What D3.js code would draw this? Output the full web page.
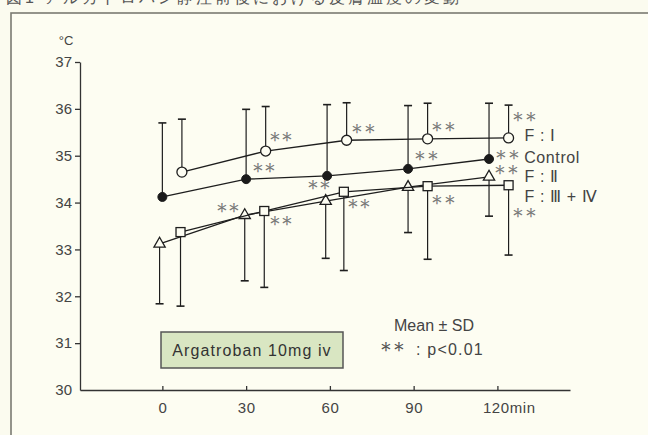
<!DOCTYPE html>
<html>
<head>
<meta charset="utf-8">
<script src="https://cdn.jsdelivr.net/npm/d3@7"></script>
<style>
  body { margin: 0; background: #fbfbef; }
  svg { display: block; }
  text { font-family: "Liberation Sans", Arial, sans-serif; }
</style>
</head>
<body>
<div class="chart"></div>
<script>
// 皮膚温度の推移 (Mean ± SD)

var width = 648,
    height = 435;

/* data */
var yTicks = [30, 31, 32, 33, 34, 35, 36, 37];
var xTicks = [0, 30, 60, 90, 120];
var xTickLabels = ["0", "30", "60", "90", "120min"];

// Control (filled circles), SD upward
var controlTime = [0, 30, 59, 88, 117];
var controlMean = [34.12, 34.50, 34.57, 34.72, 34.93];
var controlTop  = [35.70, 35.99, 36.09, 36.07, 36.12];

// F : I (open circles), SD upward
var f1Time = [7, 37, 66, 95, 124];
var f1Mean = [34.65, 35.10, 35.33, 35.36, 35.38];
var f1Top  = [35.78, 36.05, 36.13, 36.12, 36.08];

// F : II (triangles), SD downward
var f2Time = [-1, 29.5, 58.5, 88, 117];
var f2Mean = [33.12, 33.73, 34.03, 34.33, 34.55];
var f2Low  = [31.84, 32.33, 32.81, 33.36, 33.71];

// F : III + IV (squares), SD downward
var f34Time = [6.5, 36.5, 65, 95, 124];
var f34Mean = [33.37, 33.82, 34.23, 34.35, 34.37];
var f34Low  = [31.79, 32.19, 32.55, 32.79, 32.88];

// ** marks [time, value] (centre of the pair)
var starMarks = [
  [42.4, 35.34], [71.9, 35.51], [100.6, 35.57], [129.7, 35.78],
  [36.3, 34.69], [94.5, 34.95], [123.6, 34.97],
  [23.4, 33.84], [42.4, 33.56], [56.1, 34.33], [70.4, 33.91],
  [100.6, 34.01], [123.2, 34.65], [129.7, 33.73]
];

// series labels [time, value, text]
var seriesLabels = [
  [129.7, 35.44, "F : Ⅰ"],
  [129.6, 34.97, "Control"],
  [129.7, 34.55, "F : Ⅱ"],
  [129.7, 34.12, "F : Ⅲ + Ⅳ"]
];

/* scales */
var x = d3.scaleLinear().domain([-29.5, 146]).range([80, 570]);
var y = d3.scaleLinear().domain([30, 37]).range([390, 62]);

var svg = d3.select(".chart").append("svg")
    .attr("width", width)
    .attr("height", height);

svg.append("rect")
    .attr("width", width).attr("height", height)
    .attr("fill", "#fbfbef");

// title (cut off at top of the scan)
svg.append("text")
    .attr("x", 6).attr("y", 3)
    .attr("font-family", "Noto Sans CJK JP")
    .attr("font-size", 16)
    .attr("fill", "#555")
    .attr("letter-spacing", 3)
    .text("図1 アルガトロバン静注前後における皮膚温度の変動");

// frame
svg.append("rect")
    .attr("x", 11).attr("y", 13)
    .attr("width", 700).attr("height", 500)
    .attr("fill", "#fdfdf2")
    .attr("stroke", "#7a7a72")
    .attr("stroke-width", 1.6);

/* axes */
var yAxis = svg.append("g")
    .attr("transform", "translate(" + x.range()[0] + ",0)")
    .call(d3.axisLeft(y).tickValues(yTicks).tickSize(5).tickSizeOuter(0).tickPadding(3)
          .tickFormat(d3.format("d")));

var xAxis = svg.append("g")
    .attr("transform", "translate(0," + y.range()[0] + ")")
    .call(d3.axisBottom(x).tickValues(xTicks).tickSize(-4).tickSizeOuter(0).tickPadding(12)
          .tickFormat(function(d, i) { return xTickLabels[i]; }));

[yAxis, xAxis].forEach(function(a) {
  a.selectAll("path, line").attr("stroke", "#333").attr("stroke-width", 1.3);
  a.selectAll("text").attr("fill", "#444").attr("font-size", 15)
      .attr("font-family", "Liberation Sans, Arial, sans-serif");
});
yAxis.select(".tick:first-of-type line").remove();
xAxis.selectAll(".tick text").attr("letter-spacing", 0.6);
xAxis.select(".tick:last-of-type text").attr("text-anchor", "start").attr("dx", -15);

svg.append("text")
    .attr("x", 66).attr("y", 45)
    .attr("text-anchor", "middle")
    .attr("font-size", 13).attr("fill", "#444")
    .text("°C");

/* helpers */
function zip(t, m, e) {
  return t.map(function(d, i) { return {t: d, m: m[i], e: e[i]}; });
}

var line = d3.line()
    .x(function(d) { return x(d.t); })
    .y(function(d) { return y(d.m); });

var ink = "#1e1e1e";

function drawSeries(data, marker) {
  var g = svg.append("g");
  // SD bars
  g.selectAll(".sd").data(data).enter().append("line")
      .attr("x1", function(d) { return x(d.t); })
      .attr("x2", function(d) { return x(d.t); })
      .attr("y1", function(d) { return y(d.m); })
      .attr("y2", function(d) { return y(d.e); })
      .attr("stroke", ink).attr("stroke-width", 1.2);
  g.selectAll(".cap").data(data).enter().append("line")
      .attr("x1", function(d) { return x(d.t) - 4; })
      .attr("x2", function(d) { return x(d.t) + 4; })
      .attr("y1", function(d) { return y(d.e); })
      .attr("y2", function(d) { return y(d.e); })
      .attr("stroke", ink).attr("stroke-width", 1.6);
  g.append("path").datum(data)
      .attr("d", line)
      .attr("fill", "none")
      .attr("stroke", ink).attr("stroke-width", 1.3);
  marker(g.selectAll(".pt").data(data).enter());
}

drawSeries(zip(controlTime, controlMean, controlTop), function(s) {
  s.append("circle")
      .attr("cx", function(d) { return x(d.t); })
      .attr("cy", function(d) { return y(d.m); })
      .attr("r", 4.5).attr("fill", "#1a1a1a").attr("stroke", ink);
});

drawSeries(zip(f1Time, f1Mean, f1Top), function(s) {
  s.append("circle")
      .attr("cx", function(d) { return x(d.t); })
      .attr("cy", function(d) { return y(d.m); })
      .attr("r", 5).attr("fill", "#fdfdf2").attr("stroke", ink).attr("stroke-width", 1.3);
});

drawSeries(zip(f2Time, f2Mean, f2Low), function(s) {
  s.append("path")
      .attr("d", d3.symbol().type(d3.symbolTriangle).size(55))
      .attr("transform", function(d) { return "translate(" + x(d.t) + "," + y(d.m) + ")"; })
      .attr("fill", "#fdfdf2").attr("stroke", ink).attr("stroke-width", 1.3);
});

drawSeries(zip(f34Time, f34Mean, f34Low), function(s) {
  s.append("rect")
      .attr("x", function(d) { return x(d.t) - 4.5; })
      .attr("y", function(d) { return y(d.m) - 4.5; })
      .attr("width", 9).attr("height", 9)
      .attr("fill", "#fdfdf2").attr("stroke", ink).attr("stroke-width", 1.3);
});

/* ** marks : two full-width asterisks, pulled together */
var starFont = "Noto Sans CJK JP";
function stars(sel) {
  sel.attr("text-anchor", "start")
      .attr("dominant-baseline", "central")
      .attr("font-family", starFont)
      .attr("font-size", 22)
      .attr("letter-spacing", -9.5)
      .attr("fill", "#7a7a7a")
      .text("＊＊");
}
svg.selectAll(".star").data(starMarks).enter().append("text")
    .attr("x", function(d) { return x(d[0]) - 17; })
    .attr("y", function(d) { return y(d[1]); })
    .call(stars);

/* series labels */
svg.selectAll(".lab").data(seriesLabels).enter().append("text")
    .attr("x", function(d) { return x(d[0]); })
    .attr("y", function(d) { return y(d[1]); })
    .attr("dominant-baseline", "central")
    .attr("font-size", 16)
    .attr("letter-spacing", 0.6)
    .attr("fill", "#444")
    .text(function(d) { return d[2]; });

/* drug box */
svg.append("rect")
    .attr("x", 161).attr("y", 332)
    .attr("width", 182).attr("height", 36)
    .attr("fill", "#d9e6c2")
    .attr("stroke", "#555").attr("stroke-width", 1.5);
svg.append("text")
    .attr("x", 252).attr("y", 350)
    .attr("text-anchor", "middle").attr("dominant-baseline", "central")
    .attr("font-size", 16).attr("letter-spacing", 1.1)
    .attr("fill", "#333")
    .text("Argatroban 10mg iv");

/* note */
svg.append("text")
    .attr("x", 434).attr("y", 325)
    .attr("text-anchor", "middle").attr("dominant-baseline", "central")
    .attr("font-size", 16).attr("fill", "#444")
    .text("Mean ± SD");
svg.append("text")
    .attr("x", 375).attr("y", 349)
    .call(stars)
    .attr("fill", "#555");
svg.append("text")
    .attr("x", 416).attr("y", 349)
    .attr("dominant-baseline", "central")
    .attr("font-size", 16).attr("letter-spacing", 1.2)
    .attr("fill", "#444")
    .text(": p<0.01");
</script>
</body>
</html>
